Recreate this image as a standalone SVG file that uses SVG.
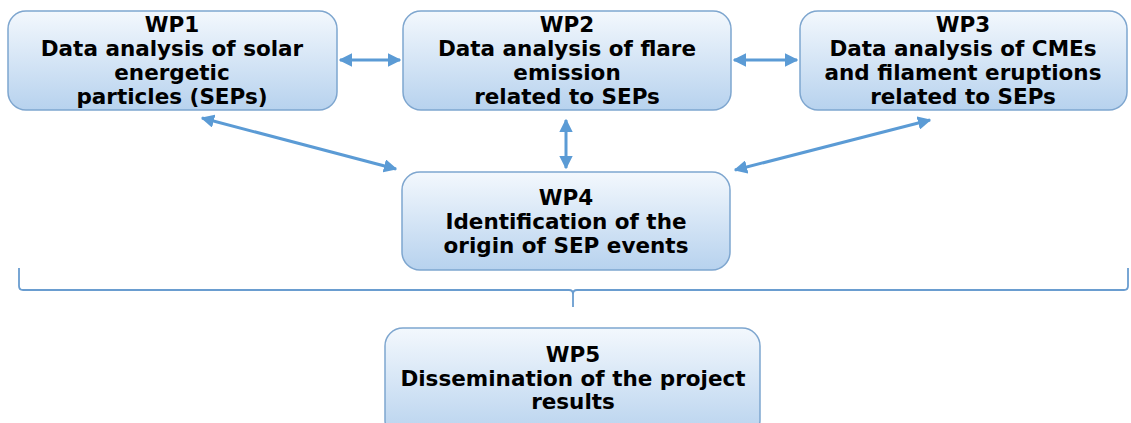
<svg xmlns="http://www.w3.org/2000/svg" width="1131" height="423" viewBox="0 0 1131 423">
<defs>
<linearGradient id="g" x1="0" y1="0" x2="0" y2="1">
<stop offset="0" stop-color="#f3f8fd"/>
<stop offset="1" stop-color="#b7d2ee"/>
</linearGradient>
<marker id="ah" viewBox="0 0 10 10" refX="9" refY="5" markerWidth="4.5" markerHeight="4.5" orient="auto-start-reverse" markerUnits="strokeWidth">
<path d="M0,0 L10,5 L0,10 z" fill="#5b9bd5"/>
</marker>
</defs>
<style>
.box{fill:url(#g);stroke:#7ea6cf;stroke-width:1.5}
.t{font-family:"DejaVu Sans",sans-serif;font-weight:bold;font-size:21.5px;fill:#000;text-anchor:middle}
.c{stroke:#5b9bd5;stroke-width:3;fill:none}
.a{marker-start:url(#ah);marker-end:url(#ah)}
</style>
<rect width="1131" height="423" fill="#fff"/>
<g id="wp1">
<rect class="box" x="8" y="11" width="329" height="99" rx="18"/>
<text class="t" x="172" y="32">WP1</text>
<text class="t" x="172" y="56">Data analysis of solar</text>
<text class="t" x="172" y="80">energetic</text>
<text class="t" x="172" y="104">particles (SEPs)</text>
</g>
<g id="wp2">
<rect class="box" x="403" y="11" width="328" height="99" rx="18"/>
<text class="t" x="567" y="32">WP2</text>
<text class="t" x="567" y="56">Data analysis of flare</text>
<text class="t" x="567" y="80">emission</text>
<text class="t" x="567" y="104">related to SEPs</text>
</g>
<g id="wp3">
<rect class="box" x="800" y="11" width="327" height="99" rx="18"/>
<text class="t" x="963" y="32">WP3</text>
<text class="t" x="963" y="56">Data analysis of CMEs</text>
<text class="t" x="963" y="80">and filament eruptions</text>
<text class="t" x="963" y="104">related to SEPs</text>
</g>
<g id="wp4">
<rect class="box" x="402" y="172" width="328" height="98" rx="18"/>
<text class="t" x="566" y="205">WP4</text>
<text class="t" x="566" y="229">Identification of the</text>
<text class="t" x="566" y="253">origin of SEP events</text>
</g>
<g id="wp5">
<rect class="box" x="385" y="328" width="375" height="110" rx="18"/>
<text class="t" x="573" y="362">WP5</text>
<text class="t" x="573" y="386">Dissemination of the project</text>
<text class="t" x="573" y="409">results</text>
</g>
<g id="connectors">
<line class="c a" x1="340" y1="60" x2="400" y2="60"/>
<line class="c a" x1="734" y1="60" x2="797" y2="60"/>
<line class="c a" x1="566" y1="120" x2="566" y2="168"/>
<line class="c a" x1="202" y1="118" x2="396" y2="169"/>
<line class="c a" x1="930" y1="120" x2="735" y2="170"/>
<path class="c" style="stroke-width:1.8;stroke:#6a9dd0" d="M19,268 L19,286 Q19,290 23,290 L569,290 Q573,290 573,294 L573,307 M573,294 Q573,290 577,290 L1124,290 Q1128,290 1128,286 L1128,268"/>
</g>
</svg>
